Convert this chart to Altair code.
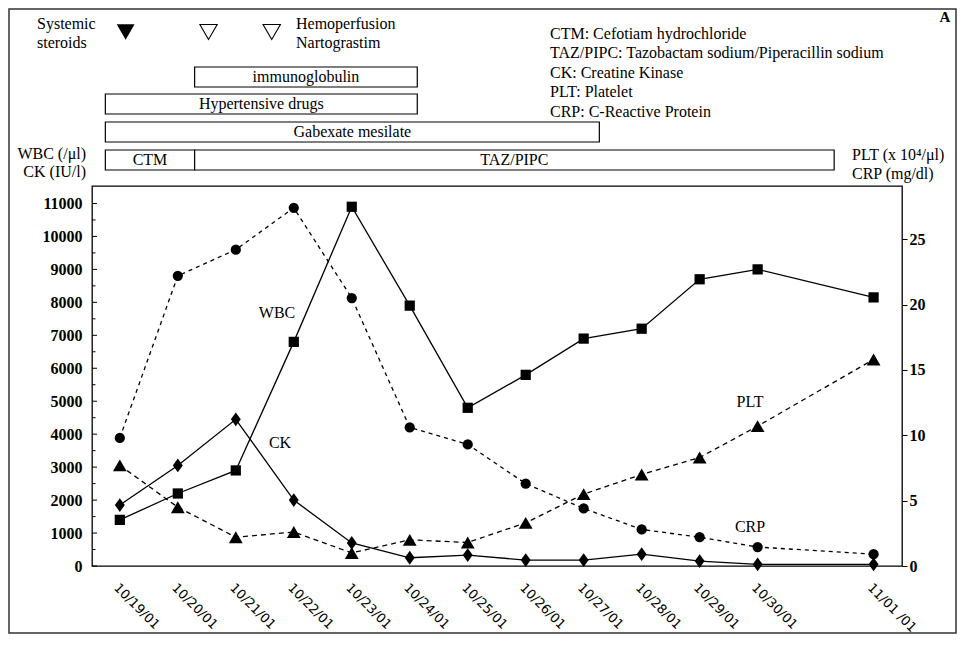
import altair as alt
import pandas as pd

# ---------------- data ----------------
dates = ["10/19/01", "10/20/01", "10/21/01", "10/22/01", "10/23/01", "10/24/01",
         "10/25/01", "10/26/01", "10/27/01", "10/28/01", "10/29/01", "10/30/01", "11/01 /01"]
days = [0, 1, 2, 3, 4, 5, 6, 7, 8, 9, 10, 11, 13]
wbc = [1400, 2200, 2900, 6800, 10900, 7900, 4800, 5800, 6900, 7200, 8700, 9000, 8150]
ck = [1850, 3050, 4450, 2000, 700, 250, 330, 180, 180, 360, 150, 50, 50]
crp = [9.8, 22.2, 24.2, 27.4, 20.5, 10.6, 9.3, 6.3, 4.4, 2.8, 2.2, 1.45, 0.9]
plt_ = [7.7, 4.5, 2.2, 2.6, 1.0, 2.0, 1.8, 3.3, 5.5, 7.0, 8.3, 10.7, 15.8]

therapy_names = ["immunoglobulin", "Hypertensive drugs", "Gabexate mesilate", "CTM", "TAZ/PIPC"]
therapy_start = [1.29, -0.25, -0.25, -0.25, 1.29]
therapy_end = [5.13, 5.13, 8.27, 1.29, 12.32]

event_names = ["Systemic steroids", "Hemoperfusion", "Nartograstim"]
event_day = [0.1, 1.53, 2.62]
event_filled = [True, False, False]

abbreviations = ["CTM: Cefotiam hydrochloride",
                 "TAZ/PIPC: Tazobactam sodium/Piperacillin sodium",
                 "CK: Creatine Kinase",
                 "PLT: Platelet",
                 "CRP: C-Reactive Protein"]

left_ticks = list(range(0, 11001, 500))
right_ticks = [0, 5, 10, 15, 20, 25]

SERIF = "Liberation Serif"
FS = 16

df = pd.DataFrame({"day": days, "label": dates, "wbc": wbc, "ck": ck, "crp": crp, "plt": plt_})
ther = pd.DataFrame({"name": therapy_names, "start": therapy_start, "end": therapy_end})
ther["mid"] = (ther["start"] + ther["end"]) / 2
ev = pd.DataFrame({"name": event_names, "day": event_day, "filled": event_filled})
ticks_df = pd.DataFrame({"v": left_ticks})

label_expr = " : ".join(f"datum.value == {d} ? '{l}'" for d, l in zip(days, dates)) + " : ''"
xscale = alt.Scale(domain=[-0.48, 13.49], nice=False, zero=False)
xaxis = alt.Axis(values=days, labelExpr=label_expr, labelAngle=45, labelAlign="left",
                 labelBaseline="top", labelPadding=15, ticks=False, domain=False, grid=False,
                 labelFont="DejaVu Sans", labelFontSize=13, labelColor="black", title=None)


def X(field):
    return alt.X(field, scale=xscale, axis=xaxis)


def YL(field):
    return alt.Y(field, scale=alt.Scale(domain=[0, 11530], nice=False, zero=True),
                 axis=alt.Axis(orient="left", values=left_ticks,
                               labelExpr="datum.value % 1000 == 0 ? '' + datum.value : ''",
                               ticks=False, tickSize=0, labelPadding=10,
                               domain=False, grid=False, labelFont=SERIF, labelFontSize=FS,
                               labelFontWeight="bold", labelColor="black", title=None))


def YR(field):
    return alt.Y(field, scale=alt.Scale(domain=[0, 29.07], nice=False, zero=True),
                 axis=alt.Axis(orient="right", values=right_ticks, format="d",
                               tickSize=5, tickColor="black", tickWidth=1, labelPadding=2,
                               domain=False, grid=False, labelFont=SERIF, labelFontSize=FS,
                               labelFontWeight="bold", labelColor="black", title=None))


base = alt.Chart(df)
DIAMOND = "M0,-1L0.72,0L0,1L-0.72,0Z"

left = alt.layer(
    alt.Chart(ticks_df).transform_filter("datum.v % 1000 == 0").mark_rule(color="black", strokeWidth=1).encode(
        x=alt.value(0), x2=alt.value(5), y=YL("v:Q")),
    alt.Chart(ticks_df).transform_filter("datum.v % 1000 != 0").mark_rule(color="black", strokeWidth=1).encode(
        x=alt.value(0), x2=alt.value(3.5), y=YL("v:Q")),
    base.mark_line(color="black", strokeWidth=1.3).encode(x=X("day:Q"), y=YL("wbc:Q")),
    base.mark_point(shape="square", filled=True, size=105, color="black", opacity=1).encode(x=X("day:Q"), y=YL("wbc:Q")),
    base.mark_line(color="black", strokeWidth=1.3).encode(x=X("day:Q"), y=YL("ck:Q")),
    base.mark_point(shape=DIAMOND, filled=True, size=190, color="black", opacity=1).encode(x=X("day:Q"), y=YL("ck:Q")),
)
right = alt.layer(
    base.mark_line(color="black", strokeWidth=1.3, strokeDash=[4, 4]).encode(x=X("day:Q"), y=YR("crp:Q")),
    base.mark_point(shape="circle", filled=True, size=105, color="black", opacity=1).encode(x=X("day:Q"), y=YR("crp:Q")),
    base.mark_line(color="black", strokeWidth=1.3, strokeDash=[5, 4]).encode(x=X("day:Q"), y=YR("plt:Q")),
    base.mark_point(shape="triangle-up", filled=True, size=190, color="black", opacity=1).encode(x=X("day:Q"), y=YR("plt:Q")),
)

one = pd.DataFrame({"a": [0]})


def txt(s, x, y, align="left", size=FS, weight="normal", font=SERIF):
    return alt.Chart(one).mark_text(text=s, align=align, baseline="middle", font=font,
                                    fontSize=size, fontWeight=weight, color="black").encode(
        x=alt.value(x), y=alt.value(y))


# therapy boxes (one lane per row)
lanes = [(["immunoglobulin"], -119, -99),
         (["Hypertensive drugs"], -92, -72),
         (["Gabexate mesilate"], -64, -44),
         (["CTM", "TAZ/PIPC"], -36, -16)]
ann = []
for names, y1, y2 in lanes:
    sub = ther[ther["name"].isin(names)]
    ann.append(alt.Chart(sub).mark_rect(fill="white", stroke="black", strokeWidth=1.2).encode(
        x=X("start:Q"), x2="end:Q", y=alt.value(y1), y2=alt.value(y2)))
    ann.append(alt.Chart(sub).mark_text(font=SERIF, fontSize=FS, color="black", baseline="middle").encode(
        x=X("mid:Q"), y=alt.value((y1 + y2) / 2), text="name:N"))

# event triangles
ann.append(alt.Chart(ev[ev["filled"]]).mark_point(shape="triangle-down", filled=True, size=320,
                                                  color="black", opacity=1).encode(
    x=X("day:Q"), y=alt.value(-154)))
ann.append(alt.Chart(ev[~ev["filled"]]).mark_point(shape="triangle-down", filled=True, size=300,
                                                   fill="white", stroke="black", strokeWidth=1.1,
                                                   opacity=1).encode(
    x=X("day:Q"), y=alt.value(-154)))

ann += [
    txt("Systemic", -55, -162), txt("steroids", -55, -143),
    txt("Hemoperfusion", 204, -162), txt("Nartograstim", 204, -143),
    txt("A", 853, -169, align="center", size=15, weight="bold"),
    txt("WBC (/μl)", -6, -32, align="right"), txt("CK (IU/l)", -6, -14, align="right"),
    txt("PLT (x 10⁴/μl)", 760, -31), txt("CRP (mg/dl)", 760, -12),
    txt("WBC", 185, 127, align="center"), txt("CK", 188, 257, align="center"),
    txt("PLT", 658, 216, align="center"), txt("CRP", 658, 341, align="center"),
]
for i, s in enumerate(abbreviations):
    ann.append(txt(s, 458, -152 + i * 19.4))

frame = alt.Chart(one).mark_rect(fill="white", fillOpacity=0, stroke="#333", strokeWidth=1.5).encode(
    x=alt.value(-83), x2=alt.value(864), y=alt.value(-177), y2=alt.value(447))

chart = alt.layer(left, right, *ann, frame).resolve_scale(y="independent").properties(
    width=810, height=380,
    autosize=alt.AutoSizeParams(type="none"),
    padding={"left": 84, "top": 178, "right": 55, "bottom": 68},
    background="white",
).configure_view(stroke="black", strokeWidth=1.3)

chart.save("out.html", embed_options={"renderer": "svg", "actions": False})
